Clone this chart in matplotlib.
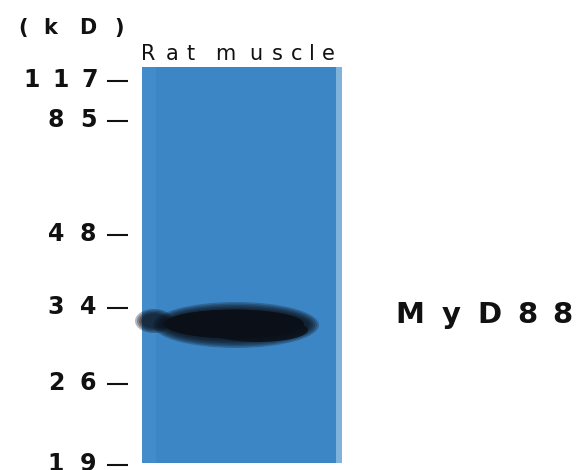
import matplotlib
matplotlib.use("Agg")
import matplotlib.pyplot as plt
from matplotlib.patches import Rectangle, Ellipse
from matplotlib.font_manager import FontProperties
from matplotlib.textpath import TextToPath

# blot annotations

unit_label = "(kD)"
lane_label = "Rat muscle"
band_label = "MyD88"
marker_labels = ["117", "85", "48", "34", "26", "19"]
marker_rows = [81, 121, 235, 308, 384, 465]  # migration of each marker, px from top

# figure in pixel coordinates

W, H = 582, 470
fig = plt.figure(figsize=(W / 100, H / 100), dpi=100)
ax = fig.add_axes([0, 0, 1, 1])
ax.set_xlim(0, W)
ax.set_ylim(H, 0)
ax.axis("off")

t2p = TextToPath()
PX = 100 / 72


def spread_text(s, x0, x1, y, size, weight="bold"):
    # the scan is stretched sideways, so lay the letters out over [x0, x1]
    prop = FontProperties(family="DejaVu Sans", size=size, weight=weight)
    widths = []
    for c in s:
        if c == " ":
            widths.append(0.25 * size * PX)
        else:
            widths.append(t2p.get_text_width_height_descent(c, prop, ismath=False)[0] * PX)
    scale = (x1 - x0) / sum(widths)
    x = x0
    for c, w in zip(s, widths):
        ax.text(x + w * scale / 2, y, c, fontproperties=prop, ha="center",
                va="baseline", color="#111111")
        x += w * scale


# lane

lane_color = "#3d86c5"
ax.add_patch(Rectangle((142, 67), 194, 396, color=lane_color, lw=0))
ax.add_patch(Rectangle((142, 67), 14, 396, color="#4a92d2", lw=0, alpha=0.5))
ax.add_patch(Rectangle((336, 67), 6, 396, color="#7fb3da", lw=0))

# band

band_color = "#0b1018"
for i in range(6):
    ax.add_patch(Ellipse((236, 325), 146 + 4 * i, 31 + 3 * i, color=band_color,
                         alpha=0.25, lw=0))
ax.add_patch(Ellipse((234, 324), 140, 29, color=band_color, lw=0))
ax.add_patch(Ellipse((258, 330), 100, 24, color=band_color, lw=0, alpha=0.85))
for i in range(4):
    ax.add_patch(Ellipse((154, 321), 26 + 4 * i, 15 + 3 * i, color=band_color,
                         alpha=0.3, lw=0))

# marker ladder

for lab, row in zip(marker_labels, marker_rows):
    x0 = 17 if len(lab) == 3 else 40
    spread_text(lab, x0, 104, row + 6, 17)
    ax.plot([107, 128], [row, row], color="#111111", lw=1.5, solid_capstyle="butt")

spread_text(unit_label, 12, 130, 34, 15)
spread_text(lane_label, 135, 340, 60, 15, weight="normal")
spread_text(band_label, 385, 580, 323, 21)

fig.savefig("out.png", dpi=100)
